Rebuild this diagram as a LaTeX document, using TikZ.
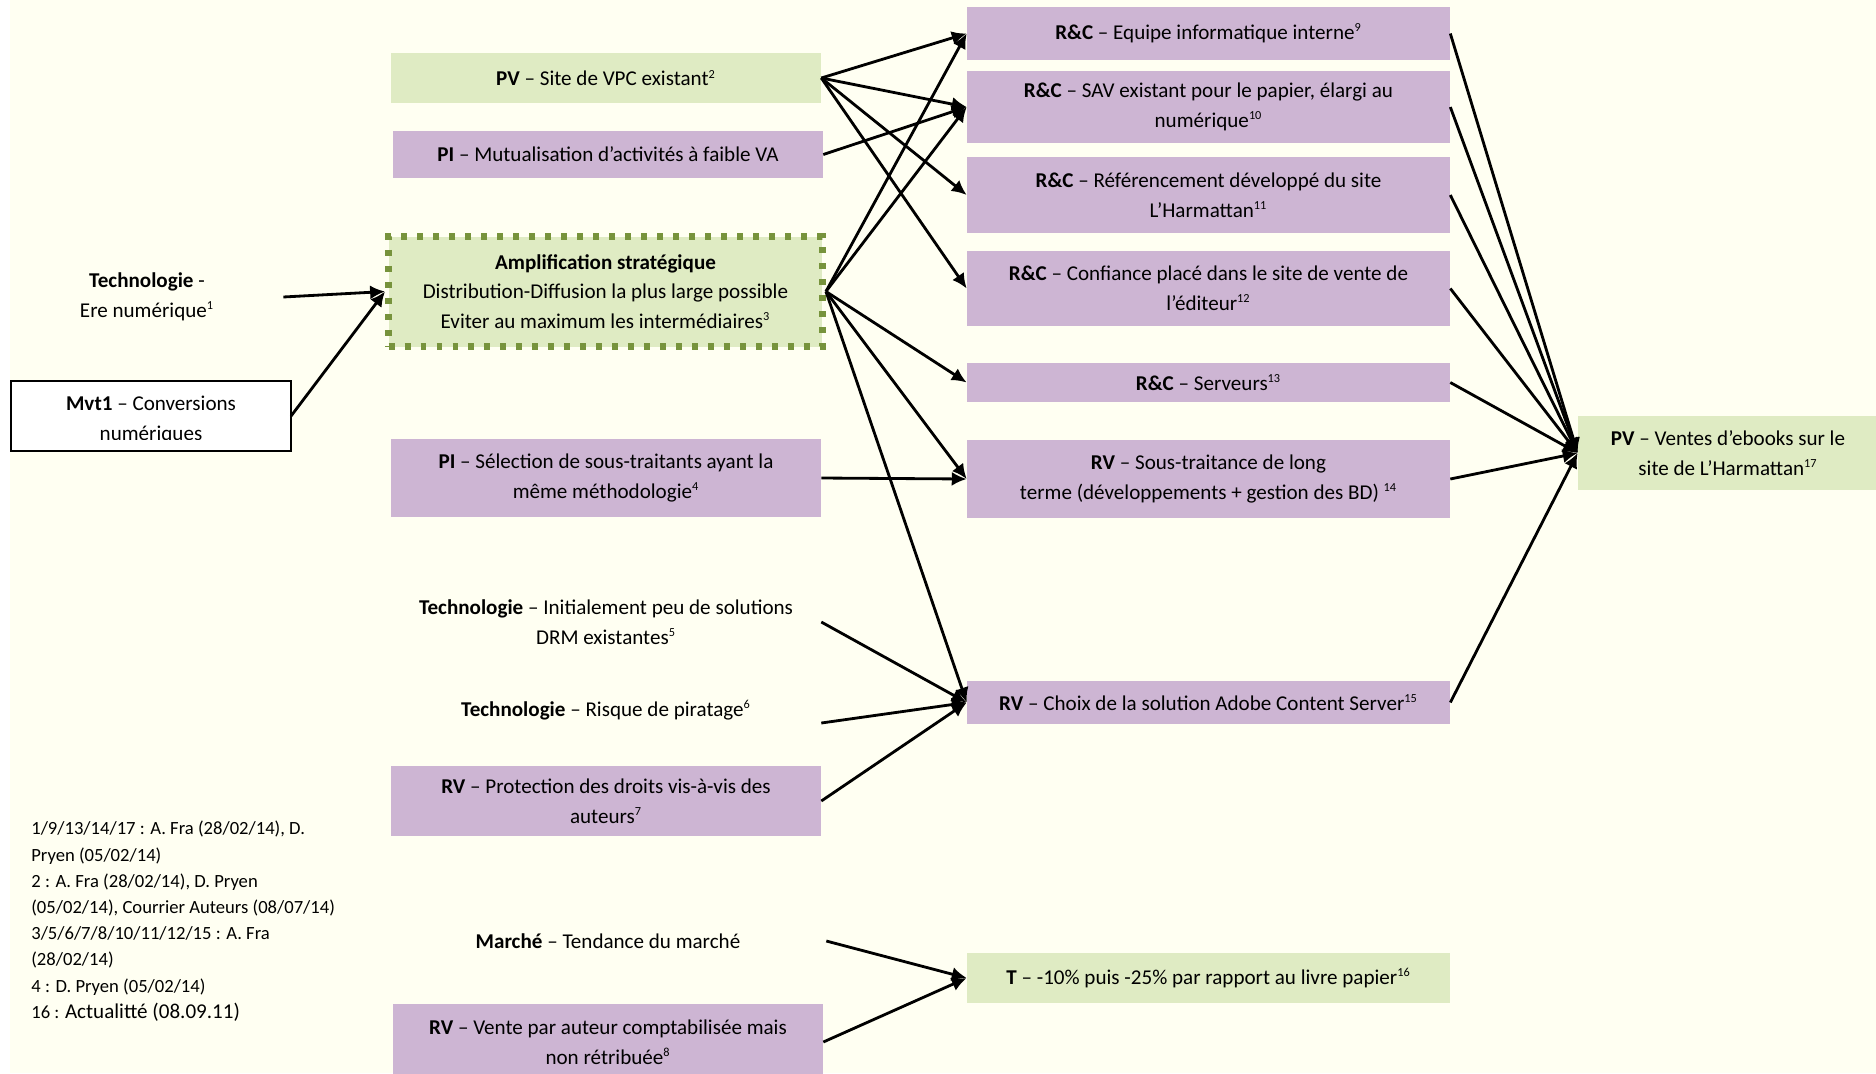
\documentclass[tikz,border=0pt]{standalone}
\usepackage{fontspec}
\setmainfont{Carlito}
\usetikzlibrary{arrows.meta}
\definecolor{cream}{HTML}{FFFFF2}
\definecolor{lilac}{HTML}{CDB5D3}
\definecolor{pale}{HTML}{DFEBC3}
\definecolor{olive}{HTML}{77933C}
\newcommand{\HeadTip}{Latex[length=8.5pt,width=8pt]}
\newcommand{\sx}[1]{\textsuperscript{\fontsize{7pt}{7pt}\selectfont#1}}
\tikzset{txt/.style={align=center,inner sep=0pt,font=\fontsize{12pt}{16.9pt}\selectfont}}
\tikzset{lbox/.style={txt,fill=lilac,minimum width=8.6cm}}
\tikzset{gbox/.style={txt,fill=pale,minimum width=8.6cm}}
\tikzset{mbox/.style={txt,fill=lilac,minimum width=9.66cm}}
\tikzset{conn/.style={line width=1.6pt,-{\HeadTip}}}

\begin{document}
\begin{tikzpicture}[x=0.02cm,y=-0.02cm]
\useasboundingbox(0,0)rectangle(1876,1073);
\fill[white](0,0)rectangle(1876,1073);\fill[cream](10,0)rectangle(1876,1073);
\node(pvsite)[gbox,minimum height=1cm]at(606,78){\textbf{PV} – Site de VPC existant\sx{2}};
\node(pimut)[lbox,minimum height=0.94cm]at(608,154.5){\textbf{PI} – Mutualisation d’activités à faible VA};
\node(amp)[gbox,draw=olive,line width=3.97pt,dash pattern=on 3.4pt off 5.7pt,minimum width=8.68cm,minimum height=2.2cm]at(605.5,291.5){\textbf{Amplification stratégique}\\Distribution-Diffusion la plus large possible\\Eviter au maximum les intermédiaires\sx{3}};
\node(tech1)[txt,minimum width=5.44cm]at(147,297){\textbf{Technologie} -\\Ere numérique\sx{1}};
\node(mvt)[txt,fill=white,minimum width=5.59cm,minimum height=1.39cm]at(151,416){};
\begin{scope}\clip(10,380)rectangle(292,439);\node[txt]at(151,420){\textbf{Mvt1} – Conversions\\numériques};\end{scope}
\draw[line width=1.4pt](mvt.south west)rectangle(mvt.north east);
\node(pisel)[lbox,minimum height=1.56cm]at(606,478){\textbf{PI} – Sélection de sous-traitants ayant la\\même méthodologie\sx{4}};
\node(tech2)[txt,minimum width=8.6cm]at(606,622){\textbf{Technologie} – Initialement peu de solutions\\DRM existantes\sx{5}};
\node(tech3)[txt,minimum width=8.6cm]at(606,723){\textbf{Technologie} – Risque de piratage\sx{6}\\\mbox{}};
\node(rvprot)[lbox,minimum height=1.4cm]at(606,801){\textbf{RV} – Protection des droits vis-à-vis des\\auteurs\sx{7}};
\node(marche)[txt,minimum width=8.72cm]at(608,941){\textbf{Marché} – Tendance du marché};
\node(rvvente)[lbox,minimum height=1.52cm]at(608,1042){\textbf{RV} – Vente par auteur comptabilisée mais\\non rétribuée\sx{8}};
\node(notes)[anchor=north west,align=left,inner sep=0pt,font=\fontsize{10.6pt}{14.9pt}\selectfont]at(31,821){1/9/13/14/17 : A. Fra (28/02/14), D.\\Pryen (05/02/14)\\2 : A. Fra (28/02/14), D. Pryen\\(05/02/14), Courrier Auteurs (08/07/14)\\3/5/6/7/8/10/11/12/15 : A. Fra\\(28/02/14)\\4 : D. Pryen (05/02/14)\\16 : {\fontsize{12pt}{14.9pt}\selectfont Actualitté (08.09.11)}};
\node(equipe)[mbox,minimum height=1.06cm]at(1208.5,33.5){\textbf{R\&C} – Equipe informatique interne\sx{9}};
\node(sav)[mbox,minimum height=1.44cm]at(1208.5,107){\textbf{R\&C} – SAV existant pour le papier, élargi au\\numérique\sx{10}};
\node(referen)[mbox,minimum height=1.52cm]at(1208.5,195){\textbf{R\&C} – Référencement développé du site\\L’Harmattan\sx{11}};
\node(confiance)[mbox,minimum height=1.5cm]at(1208.5,288.5){\textbf{R\&C} – Confiance placé dans le site de vente de\\l’éditeur\sx{12}};
\node(serveurs)[mbox,minimum height=0.78cm]at(1208.5,382.5){\textbf{R\&C} – Serveurs\sx{13}};
\node(soustrait)[mbox,minimum height=1.56cm]at(1208.5,479){\textbf{RV} – Sous-traitance de long\\terme (développements + gestion des BD) \sx{14}};
\node(choix)[mbox,minimum height=0.86cm]at(1208.5,702.5){\textbf{RV} – Choix de la solution Adobe Content Server\sx{15}};
\node(tarif)[mbox,fill=pale,minimum height=1cm]at(1208.5,978){\textbf{T} – -10\% puis -25\% par rapport au livre papier\sx{16}};
\node(pvvente)[txt,fill=pale,minimum width=6cm,minimum height=1.48cm]at(1728,453){\textbf{PV} – Ventes d’ebooks sur le\\site de L’Harmattan\sx{17}};
\draw[conn](tech1.east)--(amp.west);\draw[conn](mvt.east)--(amp.west);
\draw[conn](pvsite.east)--(equipe.west);\draw[conn](pvsite.east)--(sav.west);
\draw[conn](pvsite.east)--(referen.west);\draw[conn](pvsite.east)--(confiance.west);
\draw[conn](pimut.east)--(sav.west);
\draw[conn](amp.east)--(equipe.west);\draw[conn](amp.east)--(sav.west);
\draw[conn](amp.east)--(serveurs.west);\draw[conn](amp.east)--(soustrait.west);\draw[conn](amp.east)--(choix.west);
\draw[conn](pisel.east)--(soustrait.west);
\draw[conn](tech2.east)--(choix.west);\draw[conn](tech3.east)--(choix.west);\draw[conn](rvprot.east)--(choix.west);
\draw[conn](marche.east)--(tarif.west);\draw[conn](rvvente.east)--(tarif.west);
\draw[conn](equipe.east)--(pvvente.west);\draw[conn](sav.east)--(pvvente.west);\draw[conn](referen.east)--(pvvente.west);
\draw[conn](confiance.east)--(pvvente.west);\draw[conn](serveurs.east)--(pvvente.west);
\draw[conn](soustrait.east)--(pvvente.west);\draw[conn](choix.east)--(pvvente.west);
\end{tikzpicture}
\end{document}
